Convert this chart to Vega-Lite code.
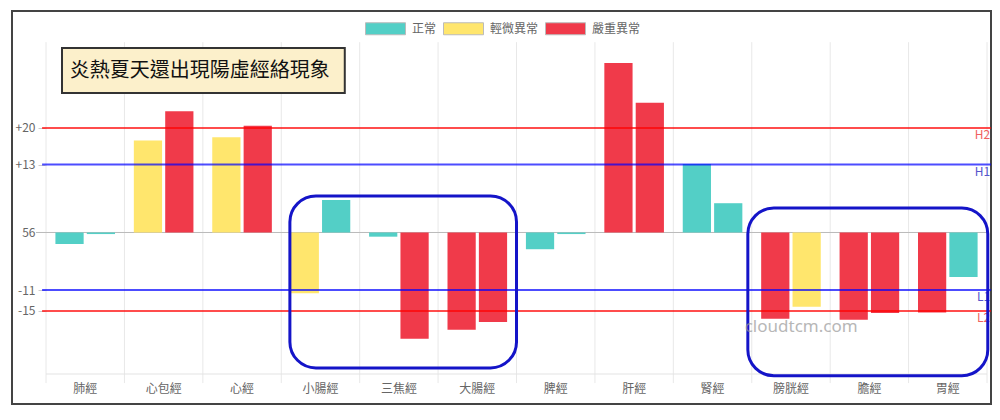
{
  "$schema": "https://vega.github.io/schema/vega-lite/v6.json",
  "width": 979,
  "height": 393,
  "autosize": {"type": "none"},
  "padding": {"left": 12, "top": 11, "right": 9, "bottom": 16},
  "background": "white",
  "config": {
    "view": {"stroke": "#444", "strokeWidth": 2},
    "font": "Noto Sans CJK TC"
  },
  "datasets": {
    "bars": [
      {"m": "肺經", "side": "左", "status": "正常", "v": -2.2},
      {"m": "肺經", "side": "右", "status": "正常", "v": -0.3},
      {"m": "心包經", "side": "左", "status": "輕微異常", "v": 17.6},
      {"m": "心包經", "side": "右", "status": "嚴重異常", "v": 23.2},
      {"m": "心經", "side": "左", "status": "輕微異常", "v": 18.2},
      {"m": "心經", "side": "右", "status": "嚴重異常", "v": 20.4},
      {"m": "小腸經", "side": "左", "status": "輕微異常", "v": -11.6},
      {"m": "小腸經", "side": "右", "status": "正常", "v": 6.2},
      {"m": "三焦經", "side": "左", "status": "正常", "v": -0.8},
      {"m": "三焦經", "side": "右", "status": "嚴重異常", "v": -20.3},
      {"m": "大腸經", "side": "左", "status": "嚴重異常", "v": -18.6},
      {"m": "大腸經", "side": "右", "status": "嚴重異常", "v": -17.1},
      {"m": "脾經", "side": "左", "status": "正常", "v": -3.2},
      {"m": "脾經", "side": "右", "status": "正常", "v": -0.3},
      {"m": "肝經", "side": "左", "status": "嚴重異常", "v": 32.4},
      {"m": "肝經", "side": "右", "status": "嚴重異常", "v": 24.8},
      {"m": "腎經", "side": "左", "status": "正常", "v": 13.1},
      {"m": "腎經", "side": "右", "status": "正常", "v": 5.6},
      {"m": "膀胱經", "side": "左", "status": "嚴重異常", "v": -16.5},
      {"m": "膀胱經", "side": "右", "status": "輕微異常", "v": -14.2},
      {"m": "膽經", "side": "左", "status": "嚴重異常", "v": -16.7},
      {"m": "膽經", "side": "右", "status": "嚴重異常", "v": -15.4},
      {"m": "胃經", "side": "左", "status": "嚴重異常", "v": -15.3},
      {"m": "胃經", "side": "右", "status": "正常", "v": -8.5}
    ],
    "thresholds": [
      {"name": "H2", "v": 20, "kind": "outer", "pos": "high"},
      {"name": "H1", "v": 13, "kind": "inner", "pos": "high"},
      {"name": "L1", "v": -11, "kind": "inner", "pos": "low"},
      {"name": "L2", "v": -15, "kind": "outer", "pos": "low"}
    ]
  },
  "layer": [
    {
      "data": {"name": "bars"},
      "transform": [{"filter": "datum.side == '左'"}],
      "mark": {"type": "rule", "color": "#e8e8e8", "strokeWidth": 1},
      "encoding": {
        "x": {
          "field": "m", "type": "nominal", "bandPosition": 0, "sort": null,
          "scale": {
            "domain": ["肺經", "心包經", "心經", "小腸經", "三焦經", "大腸經", "脾經", "肝經", "腎經", "膀胱經", "膽經", "胃經"],
            "paddingInner": 0, "paddingOuter": 0.2423, "align": 0.895
          },
          "axis": {
            "title": null, "orient": "bottom", "offset": -30, "domain": false, "ticks": false, "grid": false,
            "labelColor": "#666", "labelFontSize": 12, "labelPadding": 9, "labelAngle": 0
          }
        },
        "y": {
          "datum": 36.4, "type": "quantitative",
          "scale": {"domain": [-32.8, 42.36], "nice": false, "zero": false},
          "axis": {
            "title": null, "orient": "left", "offset": -34, "values": [20, 13, 0, -11, -15],
            "domain": false, "grid": false, "tickColor": "#ccc", "tickSize": 8,
            "labelColor": "#666", "labelFontSize": 12, "labelPadding": 3,
            "labelExpr": "datum.value == 0 ? '56' : (datum.value > 0 ? '+' + datum.value : '-' + abs(datum.value))"
          }
        },
        "y2": {"datum": -28.8}
      }
    },
    {
      "data": {"values": [{}]},
      "mark": {"type": "rule", "color": "#e8e8e8", "strokeWidth": 1},
      "encoding": {
        "x": {"datum": "胃經", "type": "nominal", "bandPosition": 1},
        "y": {"datum": 36.4, "type": "quantitative"},
        "y2": {"datum": -28.8}
      }
    },
    {
      "data": {"values": [{}]},
      "mark": {"type": "rule", "color": "#e3e3e3", "strokeWidth": 1},
      "encoding": {
        "x": {"datum": "肺經", "type": "nominal", "bandPosition": 0},
        "x2": {"datum": "胃經", "bandPosition": 1},
        "y": {"datum": -27.06, "type": "quantitative"}
      }
    },
    {
      "data": {"values": [{}]},
      "mark": {"type": "rule", "color": "#bbbbbb", "strokeWidth": 1},
      "encoding": {
        "x": {"datum": "肺經", "type": "nominal", "bandPosition": -0.128},
        "x2": {"datum": "胃經", "bandPosition": 1},
        "y": {"datum": 0, "type": "quantitative"}
      }
    },
    {
      "data": {"name": "bars"},
      "mark": {"type": "bar"},
      "encoding": {
        "x": {"field": "m", "type": "nominal", "sort": null},
        "xOffset": {
          "field": "side", "type": "nominal",
          "scale": {"domain": ["左", "右"], "paddingInner": 0.1, "paddingOuter": 0.3}
        },
        "y": {"field": "v", "type": "quantitative"},
        "color": {
          "field": "status", "type": "nominal",
          "scale": {"domain": ["正常", "輕微異常", "嚴重異常"], "range": ["#53CFC6", "#FFE66D", "#F03A4A"]},
          "legend": {
            "title": null, "orient": "none", "legendX": 353, "legendY": -3, "direction": "horizontal",
            "symbolType": "M-1,-0.3H1V0.3H-1Z", "symbolSize": 1600, "symbolStrokeWidth": 1,
            "symbolStrokeColor": "#bbbbbb",
            "labelFontSize": 12, "labelColor": "#666", "labelOffset": 6, "columnPadding": 4
          }
        }
      }
    },
    {
      "data": {"name": "thresholds"},
      "transform": [{"filter": "datum.kind == 'outer'"}],
      "mark": {"type": "rule", "color": "#ff0000", "opacity": 0.7, "strokeWidth": 2},
      "encoding": {
        "x": {"datum": "肺經", "type": "nominal", "bandPosition": -0.05},
        "x2": {"datum": "胃經", "bandPosition": 1.05},
        "y": {"field": "v", "type": "quantitative"}
      }
    },
    {
      "data": {"name": "thresholds"},
      "transform": [{"filter": "datum.kind == 'inner'"}],
      "mark": {"type": "rule", "color": "#0000ff", "opacity": 0.7, "strokeWidth": 2},
      "encoding": {
        "x": {"datum": "肺經", "type": "nominal", "bandPosition": -0.05},
        "x2": {"datum": "胃經", "bandPosition": 1.05},
        "y": {"field": "v", "type": "quantitative"}
      }
    },
    {
      "data": {"name": "thresholds"},
      "transform": [{"filter": "datum.kind == 'outer'"}],
      "mark": {"type": "text", "color": "#f06060", "align": "right", "baseline": "top", "dy": 2, "fontSize": 12},
      "encoding": {
        "x": {"datum": "胃經", "type": "nominal", "bandPosition": 1.04},
        "y": {"field": "v", "type": "quantitative"},
        "text": {"field": "name"}
      }
    },
    {
      "data": {"name": "thresholds"},
      "transform": [{"filter": "datum.kind == 'inner'"}],
      "mark": {"type": "text", "color": "#5555cc", "align": "right", "baseline": "top", "dy": 2, "fontSize": 12},
      "encoding": {
        "x": {"datum": "胃經", "type": "nominal", "bandPosition": 1.04},
        "y": {"field": "v", "type": "quantitative"},
        "text": {"field": "name"}
      }
    },
    {
      "data": {"values": [{}]},
      "mark": {"type": "rect", "fill": "#FCF0CB", "stroke": "#333", "strokeWidth": 2},
      "encoding": {
        "x": {"datum": "肺經", "type": "nominal", "bandPosition": 0.204},
        "x2": {"datum": "小腸經", "bandPosition": 0.81},
        "y": {"datum": 35.28, "type": "quantitative"},
        "y2": {"datum": 26.68}
      }
    },
    {
      "data": {"values": [{"t": "炎熱夏天還出現陽虛經絡現象"}]},
      "mark": {"type": "text", "fontSize": 20, "color": "#111", "align": "center", "baseline": "middle", "font": "Noto Sans CJK TC"},
      "encoding": {
        "x": {"datum": "心包經", "type": "nominal", "bandPosition": 0.96},
        "y": {"datum": 30.98, "type": "quantitative"},
        "text": {"field": "t"}
      }
    },
    {
      "data": {"values": [{}]},
      "mark": {"type": "rect", "fill": null, "fillOpacity": 0, "stroke": "#1414C8", "strokeWidth": 3, "cornerRadius": 26},
      "encoding": {
        "x": {"datum": "小腸經", "type": "nominal", "bandPosition": 0.11},
        "x2": {"datum": "大腸經", "bandPosition": 1.0},
        "y": {"datum": 6.98, "type": "quantitative"},
        "y2": {"datum": -25.9}
      }
    },
    {
      "data": {"values": [{}]},
      "mark": {"type": "rect", "fill": null, "fillOpacity": 0, "stroke": "#1414C8", "strokeWidth": 3, "cornerRadius": 26},
      "encoding": {
        "x": {"datum": "膀胱經", "type": "nominal", "bandPosition": -0.05},
        "x2": {"datum": "胃經", "bandPosition": 1.01},
        "y": {"datum": 4.69, "type": "quantitative"},
        "y2": {"datum": -27.4}
      }
    },
    {
      "data": {"values": [{"t": "cloudtcm.com"}]},
      "mark": {"type": "text", "fontSize": 17, "color": "#999", "opacity": 0.7, "align": "left", "baseline": "alphabetic", "font": "Noto Sans"},
      "encoding": {
        "x": {"datum": "膀胱經", "type": "nominal", "bandPosition": -0.09},
        "y": {"datum": -19.03, "type": "quantitative"},
        "text": {"field": "t"}
      }
    }
  ]
}
